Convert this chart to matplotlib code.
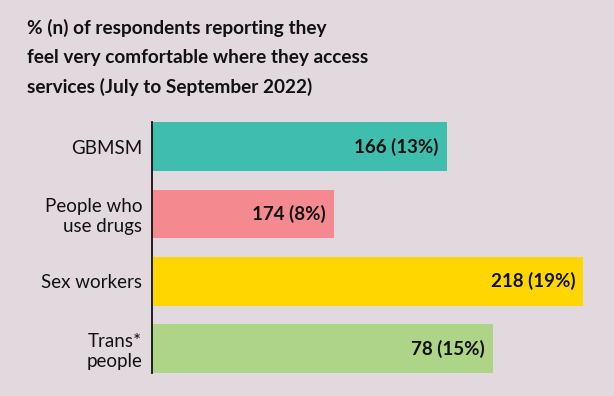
import matplotlib
matplotlib.use("Agg")
import matplotlib.pyplot as plt

BG = "#e1d9de"

groups = ["GBMSM", "People who\nuse drugs", "Sex workers", "Trans*\npeople"]
counts = [166, 174, 218, 78]
percents = [13, 8, 19, 15]
colors = ["#3fbdad", "#f48a8f", "#ffd600", "#aed487"]

plt.rcParams["font.family"] = ["Lato", "DejaVu Sans"]

fig = plt.figure(figsize=(6.14, 3.96), dpi=100, facecolor=BG)
ax = fig.add_axes([0.2476, 0.0583, 0.7394, 0.6328])
ax.set_facecolor(BG)

ypos = range(len(groups))
ax.barh(ypos, percents, height=0.723, color=colors, zorder=2)
ax.set_xlim(0, 20)
ax.set_ylim(3.3615, -0.3615)

for y, n, p in zip(ypos, counts, percents):
    ax.text(p - 0.36, y, f"{n} ({p}%)", ha="right", va="center",
            fontsize=13.5, fontweight="bold", color="#111111", zorder=3)

ax.set_yticks(list(ypos))
ax.set_yticklabels(groups, fontsize=13.5, color="#111111", linespacing=1.2)
ax.tick_params(axis="y", length=0, pad=7)
ax.set_xticks([])
for side in ["top", "right", "bottom"]:
    ax.spines[side].set_visible(False)
ax.spines["left"].set_color("#111111")
ax.spines["left"].set_linewidth(1.3)
ax.spines["left"].set_zorder(4)

fig.text(0.044, 0.951,
         "% (n) of respondents reporting they\n"
         "feel very comfortable where they access\n"
         "services (July to September 2022)",
         ha="left", va="top", fontsize=13.7, fontweight="bold", color="#111111",
         linespacing=1.82)

fig.savefig("out.png", dpi=100, facecolor=BG)
